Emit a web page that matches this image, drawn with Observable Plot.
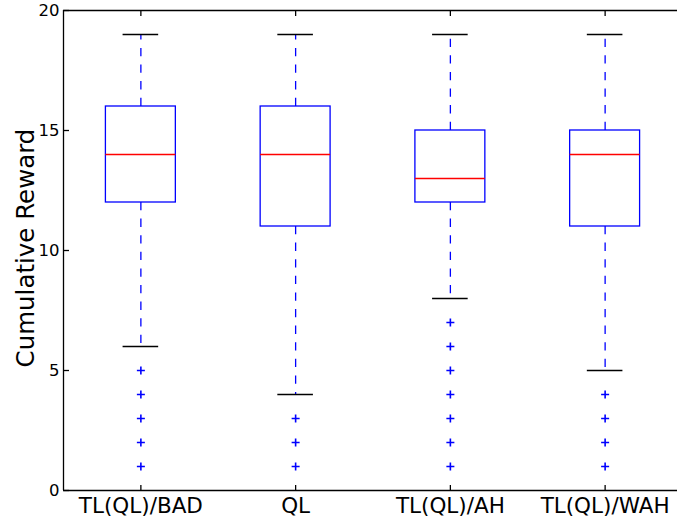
<!DOCTYPE html>
<html><head><meta charset="utf-8">
<script src="https://cdn.jsdelivr.net/npm/d3@7"></script>
<script src="https://cdn.jsdelivr.net/npm/@observablehq/plot@0.6"></script>
<style>body{margin:0;background:#fff;} #chart svg{display:block;}</style>
</head><body><div id="chart"></div>
<script>
const categories = ["TL(QL)/BAD", "QL", "TL(QL)/AH", "TL(QL)/WAH"];
const whiskerLow = [6, 4, 8, 5];
const q1 = [12, 11, 12, 11];
const median = [14, 14, 13, 14];
const q3 = [16, 16, 15, 15];
const whiskerHigh = [19, 19, 19, 19];
const outliers = [[5, 4, 3, 2, 1], [3, 2, 1], [7, 6, 5, 4, 3, 2, 1], [4, 3, 2, 1]];
const yTicks = [0, 5, 10, 15, 20];
const yLabel = "Cumulative Reward";

const positions = categories.map((c, i) => i + 1);
const boxes = categories.map((name, i) => ({
  name, pos: positions[i], low: whiskerLow[i], q1: q1[i], med: median[i], q3: q3[i], high: whiskerHigh[i]
}));
const fliers = outliers.flatMap((arr, i) => arr.map(v => ({pos: positions[i], v})));

const boxHalf = 0.226, capHalf = 0.115, tickLen = 5.5, lw = 1.3;
const plusSymbol = {draw(ctx, size) { const r = Math.sqrt(size / Math.PI); ctx.moveTo(-r, 0); ctx.lineTo(r, 0); ctx.moveTo(0, -r); ctx.lineTo(0, r); }};
const tickSym = (dx, dy) => ({draw(ctx) { ctx.moveTo(0, 0); ctx.lineTo(dx, dy); }});

const chart = Plot.plot({
  width: 677, height: 521,
  marginLeft: 63, marginRight: 0, marginTop: 10, marginBottom: 31,
  style: {fontFamily: "DejaVu Sans", color: "black", background: "white"},
  x: {domain: [0.5, 4.5], range: [63, 682]},
  y: {domain: [0, 20], range: [490, 10]},
  marks: [
    // frame
    Plot.ruleY([0, 20], {stroke: "black", strokeWidth: lw}),
    Plot.ruleX([0.5], {stroke: "black", strokeWidth: lw}),
    // inward ticks
    Plot.dot(yTicks, {y: d => d, frameAnchor: "left", symbol: tickSym(tickLen, 0), stroke: "black", fill: "none", strokeWidth: lw}),
    Plot.dot(positions, {x: d => d, frameAnchor: "top", symbol: tickSym(0, tickLen), stroke: "black", fill: "none", strokeWidth: lw}),
    Plot.dot(positions, {x: d => d, frameAnchor: "bottom", symbol: tickSym(0, -tickLen), stroke: "black", fill: "none", strokeWidth: lw}),
    // axes labels
    Plot.axisY(yTicks, {tickSize: 0, tickPadding: 4, fontSize: 16.5, label: null}),
    Plot.axisX(positions, {tickSize: 0, tickPadding: 7, fontSize: 21.5, label: null, tickFormat: d => categories[d - 1]}),
    Plot.text([yLabel], {text: d => d, frameAnchor: "left", textAnchor: "middle", rotate: -90, dx: -37, dy: -2.5, fontSize: 24.5, fill: "black"}),
    // boxes
    Plot.ruleX(boxes, {x: "pos", y1: "q1", y2: "low", stroke: "blue", strokeWidth: lw, strokeDasharray: "8.3,8.3"}),
    Plot.ruleX(boxes, {x: "pos", y1: "q3", y2: "high", stroke: "blue", strokeWidth: lw, strokeDasharray: "8.3,8.3"}),
    Plot.rect(boxes, {x1: d => d.pos - boxHalf, x2: d => d.pos + boxHalf, y1: "q1", y2: "q3", fill: "none", stroke: "blue", strokeWidth: lw}),
    Plot.ruleY(boxes, {y: "med", x1: d => d.pos - boxHalf, x2: d => d.pos + boxHalf, stroke: "red", strokeWidth: lw}),
    Plot.ruleY(boxes, {y: "low", x1: d => d.pos - capHalf, x2: d => d.pos + capHalf, stroke: "black", strokeWidth: lw}),
    Plot.ruleY(boxes, {y: "high", x1: d => d.pos - capHalf, x2: d => d.pos + capHalf, stroke: "black", strokeWidth: lw}),
    Plot.dot(fliers, {x: "pos", y: "v", symbol: plusSymbol, r: 4, stroke: "blue", fill: "none", strokeWidth: 1.6})
  ]
});
document.getElementById("chart").appendChild(chart);
</script>
</body></html>
